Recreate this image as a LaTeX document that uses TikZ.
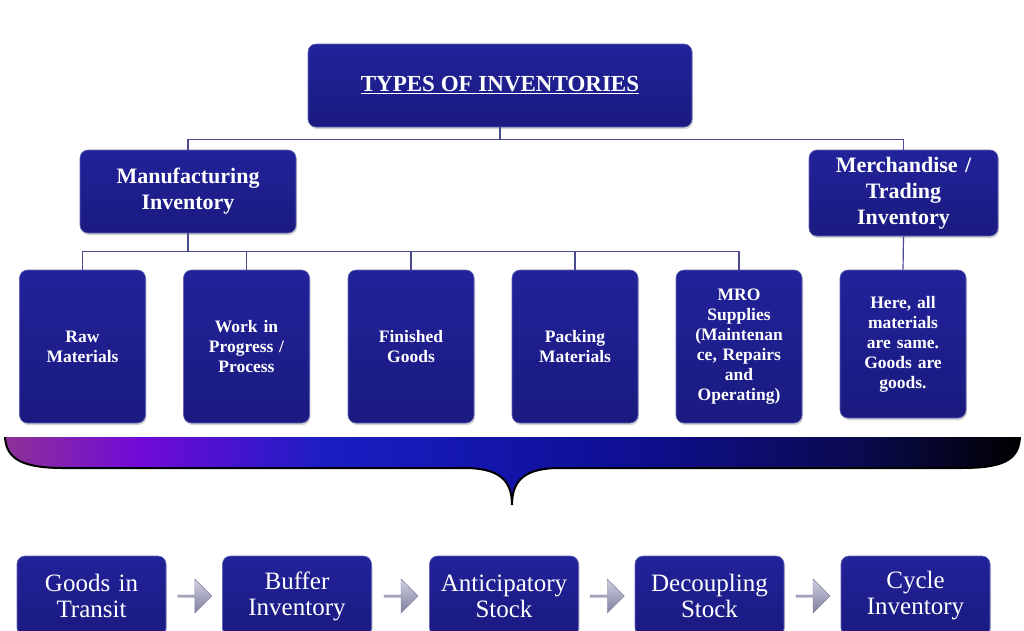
\documentclass[tikz,border=0pt]{standalone}
\usepackage{fontspec}
\setmainfont{Liberation Serif}
\usetikzlibrary{shapes.arrows,shadows,calc}
\definecolor{navy}{HTML}{22229A}
\definecolor{navyd}{HTML}{1A1A80}
\definecolor{lin}{HTML}{4A4A8E}
\definecolor{arl}{HTML}{D0D0E0}
\definecolor{ard}{HTML}{7E7E9E}
\pgfdeclarehorizontalshading{bracegrad}{100bp}{
 color(0bp)=(rgb,255:red,140;green,50;blue,150);
 color(25bp)=(rgb,255:red,140;green,50;blue,150);
 color(31.5bp)=(rgb,255:red,115;green,10;blue,215);
 color(41bp)=(rgb,255:red,25;green,30;blue,195);
 color(55bp)=(rgb,255:red,15;green,15;blue,150);
 color(67bp)=(rgb,255:red,10;green,10;blue,80);
 color(75bp)=(rgb,255:red,0;green,0;blue,0);
 color(100bp)=(rgb,255:red,0;green,0;blue,0)}
\tikzset{
 bx/.style={rounded corners=8pt, top color=navy, bottom color=navyd, draw=navy!70!white, line width=0.6pt, text=white, align=center, inner sep=2pt, drop shadow={opacity=0.35,shadow xshift=1pt,shadow yshift=-2pt}},
 hb/.style={bx, font=\bfseries\fontsize{22}{26}\selectfont},
 sb/.style={bx, font=\bfseries\fontsize{17.5}{20}\selectfont, minimum width=125pt, minimum height=153pt, text width=122pt},
 lb/.style={bx, font=\fontsize{25}{26}\selectfont, minimum width=147pt, minimum height=80pt, text width=145pt},
 ln/.style={draw=lin, line width=1.2pt},
 ar/.style={single arrow, draw=ard, top color=arl, bottom color=ard, minimum height=34pt, minimum width=34pt, single arrow head extend=3pt, inner sep=0pt}
}
\begin{document}
\begin{tikzpicture}[x=1pt,y=-1pt]
\useasboundingbox (0,0) rectangle (1024,630);
\node[hb, minimum width=384pt, minimum height=83pt, font=\bfseries\fontsize{23}{26}\selectfont] (top) at (500,85.5) {\underline{TYPES OF INVENTORIES}};
\node[hb, minimum width=216pt, minimum height=83pt] (man) at (188,191.5) {Manufacturing\\Inventory};
\node[hb, minimum width=187pt, minimum height=86pt, text width=185pt] (mer) at (903.5,193) {Merchandise /\\Trading\\Inventory};
\node[sb] (s1) at (82.5,346.5) {Raw\\Materials};
\node[sb] (s2) at (246.5,346.5) {Work in\\Progress /\\Process};
\node[sb] (s3) at (411,346.5) {Finished\\Goods};
\node[sb] (s4) at (575,346.5) {Packing\\Materials};
\node[sb] (s5) at (739,346.5) {MRO\\Supplies\\(Maintenan\\ce, Repairs\\and\\Operating)};
\node[sb, minimum height=148pt] (s6) at (903,344) {Here, all\\materials\\are same.\\Goods are\\goods.};
\draw[ln] (top.south) -- ++(0,12) coordinate (j1);
\draw[ln] (man.north) |- (j1) -| (mer.north);
\draw[ln] (man.south) -- ++(0,18) coordinate (j2);
\foreach \s in {s1,s2,s3,s4,s5} \draw[ln] (j2) -| (\s.north);
\draw[ln] (mer.south) -- (s6.north);
% brace
\shade[shading=bracegrad, draw=black, line width=2pt]
 (5,435) -- (1020,435) .. controls (1020,462) and (1000,468) .. (960,468) -- (560,468)
 .. controls (525,468) and (512,480) .. (512,505)
 .. controls (512,480) and (499,468) .. (464,468) -- (64,468)
 .. controls (24,468) and (5,460) .. (5,435) -- cycle;
\fill[white] (4,432) rectangle (1021,436.5);
\node[lb] (b1) at (91.5,596) {Goods in\\Transit};
\node[lb] (b2) at (297,596) {Buffer\\Inventory};
\node[lb] (b3) at (504,596) {Anticipatory\\Stock};
\node[lb] (b4) at (709.5,596) {Decoupling\\Stock};
\node[lb] (b5) at (915.5,596) {Cycle\\Inventory};
\foreach \a/\b in {b1/b2,b2/b3,b3/b4,b4/b5}
 \node[ar] (\a\b) at ($(\a.east)!0.5!(\b.west)$) {};
\end{tikzpicture}
\end{document}
